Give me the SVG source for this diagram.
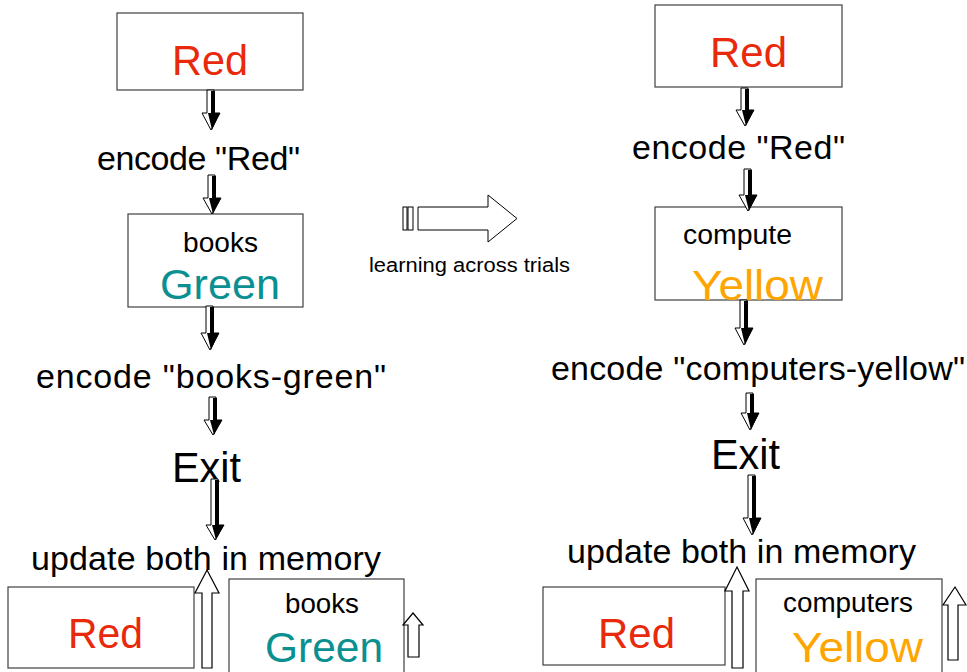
<svg xmlns="http://www.w3.org/2000/svg" width="967" height="672" viewBox="0 0 967 672">
  <style>
    text { font-family: "Liberation Sans", Arial, sans-serif; }
    .box { fill: #ffffff; stroke: #404040; stroke-width: 1.2; }
    .lbl { font-size: 34px; fill: #000000; }
    .exit { font-size: 42px; fill: #000000; }
    .word { font-size: 43px; }
    .small { font-size: 27px; fill: #000000; }
    .red { fill: #e8290b; }
    .green { fill: #0a9090; }
    .yellow { fill: #ffa500; }
    .aw { fill: #ffffff; stroke: #000000; stroke-width: 1; stroke-linejoin: miter; }
    .ab { fill: #000000; }
    .up { fill: #ffffff; stroke: #000000; stroke-width: 1.2; }
  </style>

  <rect width="967" height="672" fill="#ffffff"/>

  <!-- left trial -->
  <g id="left-red">
    <rect class="box" x="117" y="13" width="186" height="77"/>
    <text class="word red" x="172" y="75" textLength="76" lengthAdjust="spacingAndGlyphs">Red</text>
  </g>
  <g id="left-encode-red">
    <text class="lbl" x="97" y="170" textLength="203" lengthAdjust="spacing">encode "Red"</text>
  </g>
  <g id="left-books-green">
    <rect class="box" x="128" y="214" width="175" height="93"/>
    <text class="small" x="183" y="252" textLength="75" lengthAdjust="spacingAndGlyphs">books</text>
    <text class="word green" x="160" y="299" textLength="120" lengthAdjust="spacingAndGlyphs">Green</text>
  </g>
  <g id="left-encode-pair">
    <text class="lbl" x="36" y="388" textLength="350" lengthAdjust="spacing">encode "books-green"</text>
  </g>
  <g id="left-exit">
    <text class="exit" x="172" y="482" textLength="69" lengthAdjust="spacingAndGlyphs">Exit</text>
  </g>
  <g id="left-update">
    <text class="lbl" x="31" y="570" textLength="350" lengthAdjust="spacing">update both in memory</text>
  </g>
  <g id="left-memory-red">
    <rect class="box" x="8" y="587" width="186" height="81"/>
    <text class="word red" x="68" y="648" textLength="75" lengthAdjust="spacingAndGlyphs">Red</text>
  </g>
  <g id="left-memory-books">
    <rect class="box" x="229" y="579" width="175" height="100"/>
    <text class="small" x="285" y="613" textLength="74" lengthAdjust="spacingAndGlyphs">books</text>
    <text class="word green" x="265" y="662" textLength="118" lengthAdjust="spacingAndGlyphs">Green</text>
  </g>

  <!-- transition between trials -->
  <g id="learning">
    <rect class="aw" x="403" y="207" width="4" height="23"/>
    <rect class="aw" x="408" y="207" width="5" height="23"/>
    <polygon class="aw" points="418,207 488,207 488,195 517,218.5 488,242 488,230 418,230"/>
    <text x="369" y="272" font-size="20" textLength="201" lengthAdjust="spacingAndGlyphs">learning across trials</text>
  </g>

  <!-- right trial -->
  <g id="right-red">
    <rect class="box" x="655" y="5" width="187" height="82"/>
    <text class="word red" x="710" y="67" textLength="77" lengthAdjust="spacingAndGlyphs">Red</text>
  </g>
  <g id="right-encode-red">
    <text class="lbl" x="632" y="159" textLength="213" lengthAdjust="spacing">encode "Red"</text>
  </g>
  <g id="right-compute-yellow">
    <rect class="box" x="655" y="207" width="187" height="93"/>
    <text class="small" x="683" y="244" textLength="109" lengthAdjust="spacingAndGlyphs">compute</text>
    <text class="word yellow" x="692" y="300" textLength="131" lengthAdjust="spacingAndGlyphs">Yellow</text>
  </g>
  <g id="right-encode-pair">
    <text class="lbl" x="551" y="380" textLength="414" lengthAdjust="spacing">encode "computers-yellow"</text>
  </g>
  <g id="right-exit">
    <text class="exit" x="711" y="469" textLength="69" lengthAdjust="spacingAndGlyphs">Exit</text>
  </g>
  <g id="right-update">
    <text class="lbl" x="567" y="563" textLength="349" lengthAdjust="spacing">update both in memory</text>
  </g>
  <g id="right-memory-red">
    <rect class="box" x="543" y="587" width="182" height="78"/>
    <text class="word red" x="598" y="648" textLength="77" lengthAdjust="spacingAndGlyphs">Red</text>
  </g>
  <g id="right-memory-computers">
    <rect class="box" x="756" y="579" width="186" height="100"/>
    <text class="small" x="783" y="612" textLength="130" lengthAdjust="spacingAndGlyphs">computers</text>
    <text class="word yellow" x="792" y="662" textLength="131" lengthAdjust="spacingAndGlyphs">Yellow</text>
  </g>

  <!-- connectors: shaded block arrows -->
  <g id="connectors">
    <polygon class="aw" points="207,90 214,90 214,113 220,113 211,130 202,113 207,113"/>
    <polygon class="ab" points="211,91 215,91 215,113 220,113 212,130 208,113 211,113"/>

    <polygon class="aw" points="208,175 215,175 215,198 221,198 212,214 203,198 208,198"/>
    <polygon class="ab" points="212,176 216,176 216,198 221,198 213,214 209,198 212,198"/>

    <polygon class="aw" points="206,306 213,306 213,333 219,333 210,350 201,333 206,333"/>
    <polygon class="ab" points="210,307 214,307 214,333 219,333 211,350 207,333 210,333"/>

    <polygon class="aw" points="209,397 216,397 216,420 222,420 213,435 204,420 209,420"/>
    <polygon class="ab" points="213,398 217,398 217,420 222,420 214,435 210,420 213,420"/>

    <polygon class="aw" points="211,479 218,479 218,525 224,525 215,540 206,525 211,525"/>
    <polygon class="ab" points="215,480 219,480 219,525 224,525 216,540 212,525 215,525"/>

    <polygon class="aw" points="741,88 748,88 748,110 754,110 745,126 736,110 741,110"/>
    <polygon class="ab" points="745,89 749,89 749,110 754,110 746,126 742,110 745,110"/>

    <polygon class="aw" points="744,169 751,169 751,195 757,195 748,211 739,195 744,195"/>
    <polygon class="ab" points="748,170 752,170 752,195 757,195 749,211 745,195 748,195"/>

    <polygon class="aw" points="740,300 747,300 747,328 753,328 744,345 735,328 740,328"/>
    <polygon class="ab" points="744,301 748,301 748,328 753,328 745,345 741,328 744,328"/>

    <polygon class="aw" points="746,393 753,393 753,413 759,413 750,430 741,413 746,413"/>
    <polygon class="ab" points="750,394 754,394 754,413 759,413 751,430 747,413 750,413"/>

    <polygon class="aw" points="748,475 755,475 755,518 761,518 752,535 743,518 748,518"/>
    <polygon class="ab" points="752,476 756,476 756,518 761,518 753,535 749,518 752,518"/>

    <!-- hollow arrows pointing up into memory -->
    <polygon class="up" points="207,570 219,593 212,593 212,668 202,668 202,593 195,593"/>
    <polygon class="up" points="413,613 423,625 419,625 419,657 408,657 408,625 403,625"/>
    <polygon class="up" points="737,567 749,591 743,591 743,668 732,668 732,591 725,591"/>
    <polygon class="up" points="955,587 966,605 958,605 958,660 948,660 948,605 943,605"/>
  </g>
</svg>
